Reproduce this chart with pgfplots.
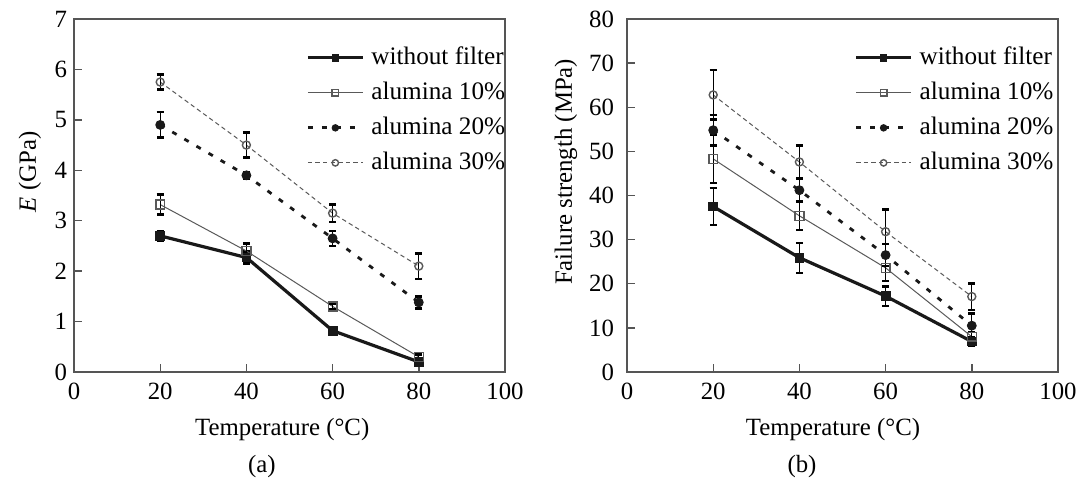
\documentclass[border=0pt]{standalone}
\usepackage{fontspec}
\setmainfont{Liberation Serif}
\usepackage{pgfplots}
\pgfplotsset{compat=1.18}
\definecolor{axgray}{HTML}{555555}
\pgfplotsset{
  myaxis/.style={
    scale only axis, width=215.5pt, height=176.5pt,
    xmin=0, xmax=100, xtick={0,20,...,100},
    tick align=inside, xtick pos=bottom, ytick pos=left,
    major tick length=4pt,
    axis line style={axgray, line width=0.9pt},
    every tick/.style={axgray, line width=0.7pt},
    /pgf/number format/assume math mode=true,
    tick label style={font=\fontsize{12.4}{14}\selectfont},
    xticklabel style={yshift=-2pt},
    label style={font=\fontsize{12.4}{14}\selectfont},
    clip=false,
    legend cell align=left,
    legend style={draw=none, fill=none, anchor=north west,
      font=\fontsize{12.6}{14}\selectfont, row sep=0pt,
      nodes={text height=9pt, text depth=2.5pt, inner ysep=3pt, inner xsep=3.5pt}},
    legend image code/.code={\draw[mark repeat=2,mark phase=2,mark size=1.6pt] plot coordinates {(0pt,0pt) (13.75pt,0pt) (27.5pt,0pt)};},
  },
  eb/.style={error bars/.cd, y dir=both, y explicit,
    error bar style={solid, black, line width=0.5pt},
    error mark options={solid, black, rotate=90, mark size=1.75pt, line width=1.2pt}},
  s0/.style={black!90, line width=1.6pt, mark=square*, mark size=2.2pt, mark options={solid, line width=0.5pt}},
  s1/.style={black!65, line width=0.5pt, mark=square, mark size=2.2pt, mark options={solid, fill=white, line width=0.7pt}},
  s2/.style={black!90, line width=1.4pt, dash pattern=on 2.5pt off 4.5pt, mark=*, mark size=2.2pt, mark options={solid, line width=0.5pt}},
  s3/.style={black!65, line width=0.5pt, dash pattern=on 2.2pt off 1.6pt, mark=o, mark size=2pt, mark options={solid, fill=white, line width=0.7pt}},
}
\begin{document}
\begin{tikzpicture}
\useasboundingbox (0,0) rectangle (541.5pt,241.5pt);
% (a)
\begin{axis}[myaxis, at={(37pt,55.5pt)}, anchor=south west,
  ymin=0, ymax=7, ytick={0,1,...,7},
  xlabel={Temperature (°C)}, ylabel={\textit{E} (GPa)},
  xlabel style={at={([yshift=-29pt]axis description cs:0.483,0)}, anchor=center},
  ylabel style={at={([xshift=-22pt]axis description cs:0,0.567)}, anchor=center},
  legend style={at={(axis description cs:0.524,0.952)}},
]
\addplot[s0, eb] coordinates {(20,2.70) +- (0,0.10) (40,2.27) +- (0,0.12) (60,0.82) +- (0,0.05) (80,0.20) +- (0,0.05)};
\addlegendentry{without filter}
\addplot[s1, eb] coordinates {(20,3.32) +- (0,0.20) (40,2.40) +- (0,0.15) (60,1.30) +- (0,0.06) (80,0.30) +- (0,0.05)};
\addlegendentry{alumina 10\%}
\addplot[s2, eb] coordinates {(20,4.90) +- (0,0.25) (40,3.90) +- (0,0.06) (60,2.65) +- (0,0.15) (80,1.38) +- (0,0.12)};
\addlegendentry{alumina 20\%}
\addplot[s3, eb] coordinates {(20,5.75) +- (0,0.15) (40,4.50) +- (0,0.25) (60,3.15) +- (0,0.17) (80,2.10) +- (0,0.25)};
\addlegendentry{alumina 30\%}
\node[font=\fontsize{12.4}{14}\selectfont] at ([yshift=-47.5pt]axis description cs:0.436,0) {(a)};
\end{axis}
% (b)
\begin{axis}[myaxis, at={(313.5pt,55.5pt)}, anchor=south west,
  ymin=0, ymax=80, ytick={0,10,...,80},
  yticklabel style={xshift=-3pt},
  xlabel={Temperature (°C)}, ylabel={Failure strength (MPa)},
  xlabel style={at={([yshift=-29pt]axis description cs:0.478,0)}, anchor=center},
  ylabel style={at={([xshift=-30.5pt]axis description cs:0,0.567)}, anchor=center},
  legend style={at={(axis description cs:0.513,0.952)}},
]
\addplot[s0, eb] coordinates {(20,37.5) +- (0,4.2) (40,25.9) +- (0,3.4) (60,17.2) +- (0,2.2) (80,6.9) +- (0,1.0)};
\addlegendentry{without filter}
\addplot[s1, eb] coordinates {(20,48.3) +- (0,5.5) (40,35.4) +- (0,3.2) (60,23.6) +- (0,3.0) (80,8.0) +- (0,1.0)};
\addlegendentry{alumina 10\%}
\addplot[s2, eb] coordinates {(20,54.8) +- (0,3.5) (40,41.2) +- (0,2.5) (60,26.5) +- (0,2.5) (80,10.5) +- (0,2.8)};
\addlegendentry{alumina 20\%}
\addplot[s3, eb] coordinates {(20,62.8) +- (0,5.6) (40,47.6) +- (0,3.7) (60,31.8) +- (0,5.0) (80,17.1) +- (0,3.0)};
\addlegendentry{alumina 30\%}
\node[font=\fontsize{12.4}{14}\selectfont] at ([yshift=-47.5pt]axis description cs:0.406,0) {(b)};
\end{axis}
\end{tikzpicture}
\end{document}
